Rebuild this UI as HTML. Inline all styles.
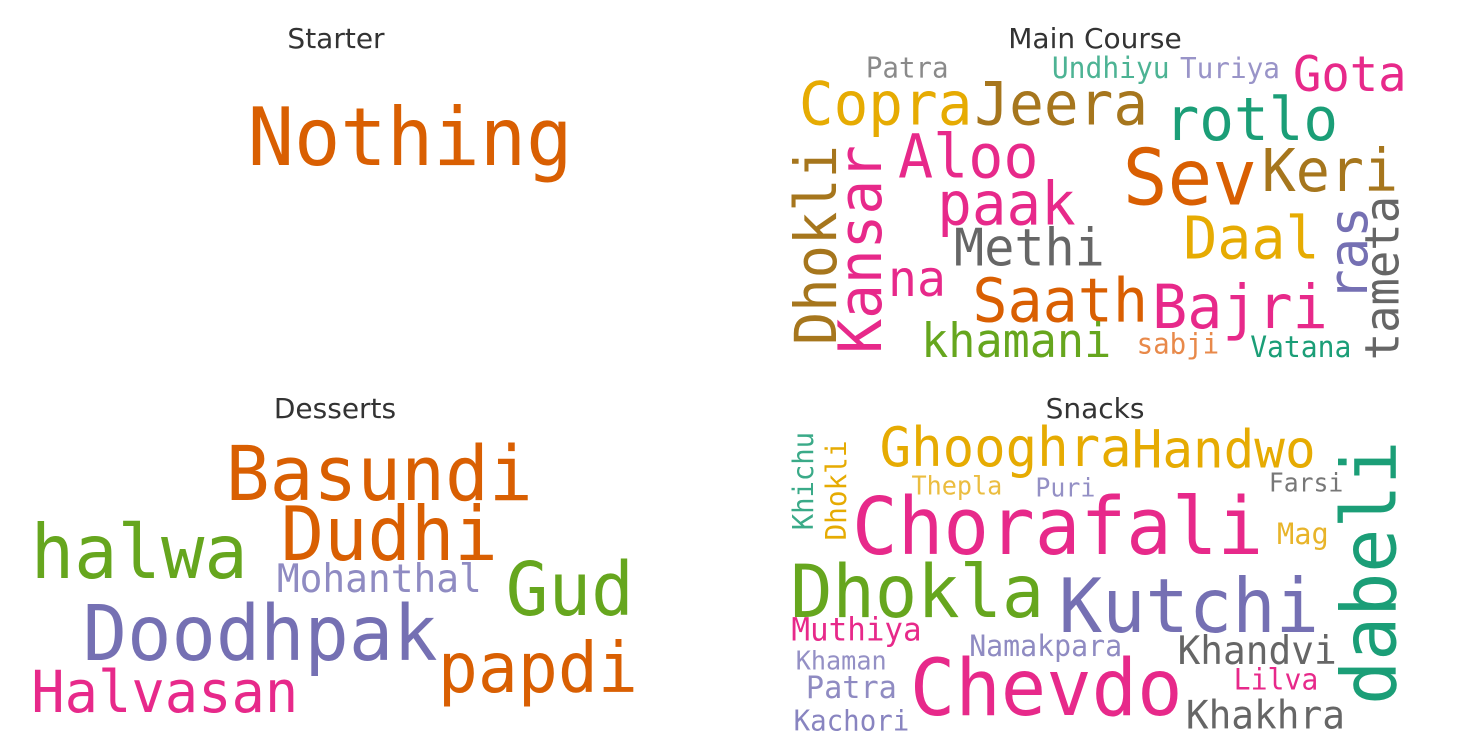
<!DOCTYPE html>
<html><head><meta charset="utf-8"><style>
html,body{margin:0;padding:0;background:#fff}
svg{display:block}
.t{font-family:"DejaVu Sans","Liberation Sans",sans-serif;font-size:28px;fill:#333}
.w{font-family:"DejaVu Sans Mono","Liberation Mono",monospace}
</style></head><body>
<svg id="s" width="1481" height="752" viewBox="0 0 1481 752">
<text class="t" x="336" y="48" text-anchor="middle">Starter</text>
<text class="t" x="1095" y="48" text-anchor="middle">Main Course</text>
<text class="t" x="335" y="418" text-anchor="middle">Desserts</text>
<text class="t" x="1095" y="418" text-anchor="middle">Snacks</text>
</svg>
<script>
// [word, x1, x2, baseline, color, vertical]  (coords in zoom space for panels with scale)
const starterWords=[["Nothing",250,575,165,"#d95f02",0]];
const dessertWords=[
["Basundi",228,535,500,"#d95f02",0],["halwa",33,250,578,"#66a61e",0],["Dudhi",283,500,560,"#d95f02",0],
["Mohanthal",278,483,592,"#8f8bc2",0],["Gud",508,636,615,"#66a61e",0],["Doodhpak",85,440,660,"#7570b3",0],
["papdi",440,640,692,"#d95f02",0],["Halvasan",33,300,712,"#e7298a",0]];
const mainWords=[
["Patra",210,410,110,"#8a8a8a",0],["Undhiyu",660,945,112,"#4db394",0],["Turiya",970,1212,112,"#9994c8",0],
["Gota",1245,1520,150,"#e7298a",0],["Copra",50,470,250,"#e6ab02",0],["Jeera",475,895,250,"#a6761d",0],
["rotlo",935,1355,295,"#1b9e77",0],["Dhokli",310,900,135,"#a6761d",1],["Kansar",310,925,245,"#e7298a",1],
["Aloo",290,630,405,"#e7298a",0],["paak",385,720,545,"#e7298a",0],["Methi",425,790,665,"#666666",0],
["Sev",835,1160,485,"#d95f02",0],["Keri",1170,1500,445,"#a6761d",0],["Daal",980,1310,645,"#e6ab02",0],
["ras",490,770,1420,"#7570b3",1],["tameta",460,945,1497,"#666666",1],["na",265,405,755,"#e7298a",0],
["Saath",470,895,830,"#d95f02",0],["Bajri",905,1330,850,"#e7298a",0],["khamani",345,805,935,"#66a61e",0],
["sabji",865,1065,925,"#e8894a",0],["Vatana",1140,1385,935,"#1b9e77",0]];
const snackWords=[
["Khichu",65,355,80,"#3aaa88",1],["Dhokli",90,385,160,"#e6ab02",1],["Ghooghra",245,855,165,"#e6ab02",0],
["Handwo",855,1300,170,"#e6ab02",0],["dabeli",90,870,1490,"#1b9e77",1],["Thepla",320,540,250,"#ebbd40",0],
["Puri",620,765,255,"#9490c5",0],["Farsi",1185,1365,240,"#777777",0],["Chorafali",180,1175,425,"#e7298a",0],
["Mag",1205,1330,395,"#e8b42a",0],["Dhokla",30,645,610,"#66a61e",0],["Kutchi",680,1310,655,"#7570b3",0],
["Muthiya",30,345,680,"#e7298a",0],["Namakpara",460,830,725,"#8f8bc2",0],["Khandvi",965,1350,750,"#666666",0],
["Khaman",40,260,765,"#9490c5",0],["Chevdo",320,980,900,"#e7298a",0],["Lilva",1100,1305,825,"#e7298a",0],
["Patra",65,285,850,"#8f8bc2",0],["Khakhra",985,1370,940,"#666666",0],["Kachori",35,315,945,"#8884c0",0]];
const svg=document.getElementById('s');
const NS="http://www.w3.org/2000/svg";
function draw(words,x0,y0,sx,sy,panel){
  words.forEach(w=>{
    const t=document.createElementNS(NS,'text');
    t.setAttribute('class','w');
    t.setAttribute('fill',w[4]);
    t.textContent=w[0];
    const n=w[0].length;
    if(!w[5]){
      const x1=x0+w[1]/sx, x2=x0+w[2]/sx, y=y0+w[3]/sy;
      const len=x2-x1;
      const fs=len/(n*0.602)*1.04;
      t.setAttribute('x',x1-fs*0.03);
      t.setAttribute('y',y);
      t.setAttribute('font-size',fs.toFixed(1));
      t.setAttribute('textLength',len.toFixed(1));
      t.setAttribute('lengthAdjust','spacingAndGlyphs');
    }else{
      const y1=y0+w[1]/sy, y2=y0+w[2]/sy, bx=x0+w[3]/sx;
      const len=y2-y1;
      const fs=len/(n*0.602)*1.04;
      t.setAttribute('x',0);t.setAttribute('y',0);
      t.setAttribute('font-size',fs.toFixed(1));
      t.setAttribute('textLength',len.toFixed(1));
      t.setAttribute('lengthAdjust','spacingAndGlyphs');
      t.setAttribute('transform','translate('+bx.toFixed(1)+','+y2.toFixed(1)+') rotate(-90)');
    }
    
    
    svg.appendChild(t);
  });
}
draw(starterWords,0,0,1,1,'starter');
draw(dessertWords,0,0,1,1,'desserts');
draw(mainWords,780,40,2.42,2.95,'main-course');
draw(snackWords,780,410,2.42,2.95,'snacks');
</script>
</body></html>
